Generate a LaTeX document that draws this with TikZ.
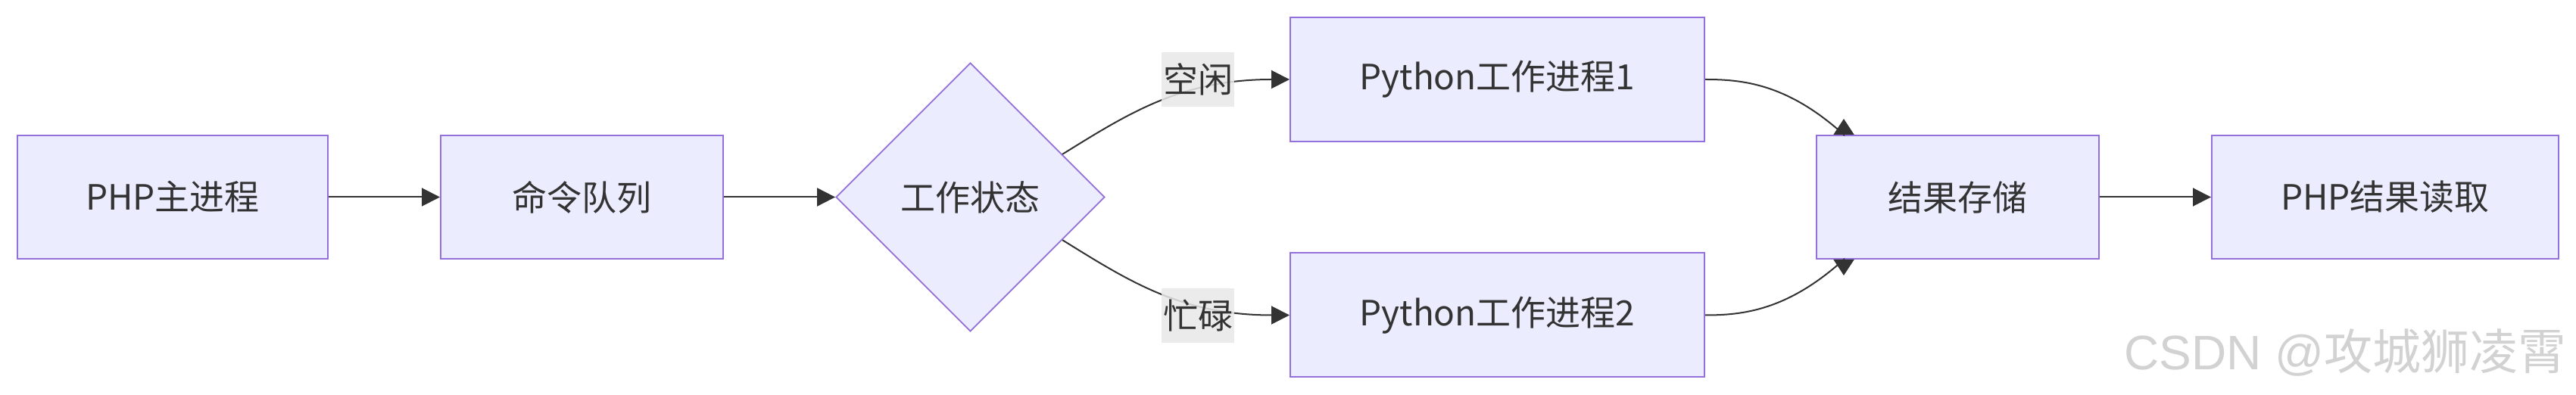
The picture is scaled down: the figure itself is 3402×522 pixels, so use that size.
\documentclass[tikz,border=0pt]{standalone}
\usepackage{fontspec}
\setmainfont{Noto Sans CJK SC}
\newfontfamily\wmlatin{Liberation Sans}
\usetikzlibrary{shapes.geometric,arrows.meta,calc}
\definecolor{nodefill}{HTML}{ECECFF}
\definecolor{nodeline}{HTML}{9370DB}
\definecolor{edgecol}{HTML}{333333}
\definecolor{lblbg}{HTML}{E8E8E8}
\definecolor{wmark}{HTML}{D2D2D2}
\begin{document}
\begin{tikzpicture}[x=0.5pt,y=-0.5pt,
  box/.style={draw=nodeline, fill=nodefill, line width=1pt, inner sep=0pt,
    text=edgecol, font=\fontsize{23}{28}\selectfont, minimum height=81.5pt},
  decision/.style={diamond, draw=nodeline, fill=nodefill, line width=0.9pt, inner sep=0pt,
    text=edgecol, font=\fontsize{23}{28}\selectfont, minimum width=177.5pt, minimum height=177.5pt},
  edgelabel/.style={fill=lblbg, fill opacity=0.85, text opacity=1, text=edgecol, inner sep=0pt,
    font=\fontsize{23}{28}\selectfont, minimum width=48pt, minimum height=36pt},
  flow/.style={draw=edgecol, line width=1pt, -{Triangle[length=12pt,width=12pt]}},
  flowb/.style={draw=edgecol, line width=1pt, -{Triangle[length=10.5pt,width=13.5pt]}},
  wm/.style={text=wmark, font=\fontsize{32}{37}\selectfont, inner sep=0pt}
]
\useasboundingbox (0,0) rectangle (3402,522);

\node[box, minimum width=205pt] (A) at (228,260.5) {PHP主进程};
\node[box, minimum width=186.5pt] (B) at (768.5,260.5) {命令队列};
\node[decision] (D) at (1281.5,260.5) {工作状态};
\node[box, minimum width=273.5pt, minimum height=82pt] (P1) at (1977.5,105) {Python工作进程1};
\node[box, minimum width=273.5pt, minimum height=82pt] (P2) at (1977.5,416.5) {Python工作进程2};
\node[box, minimum width=186.5pt] (R) at (2585.5,260.5) {结果存储};
\node[box, minimum width=229pt] (F) at (3150,260.5) {PHP结果读取};

\coordinate (Rin1) at ($(R.north west)+(37,0)$);
\coordinate (Rin2) at ($(R.south west)+(37,0)$);
\coordinate (Rtip1) at ($(Rin1)+(0,-21)$);
\coordinate (Rtip2) at ($(Rin2)+(0,21)$);

\draw[flow] (A) -- (B);
\draw[flow] (B) -- (D);
\draw[flow] (D.25) .. controls (1490,150) and (1560,105) .. (P1.west);
\draw[flow] (D.-25) .. controls (1490,371) and (1560,416.5) .. (P2.west);
\draw[flowb] (P1.east) .. controls (2300,105) and (2360,110) .. (Rin1) -- (Rtip1);
\draw[flowb] (P2.east) .. controls (2300,416.5) and (2360,411) .. (Rin2) -- (Rtip2);
\draw[flow] (R) -- (F);

\node[edgelabel] (L1) at (1582,105) {空闲};
\node[edgelabel] (L2) at (1582,417) {忙碌};

\node[wm, anchor=east] (W) at (3390,466) {{\wmlatin CSDN @}攻城狮凌霄};
\end{tikzpicture}
\end{document}
